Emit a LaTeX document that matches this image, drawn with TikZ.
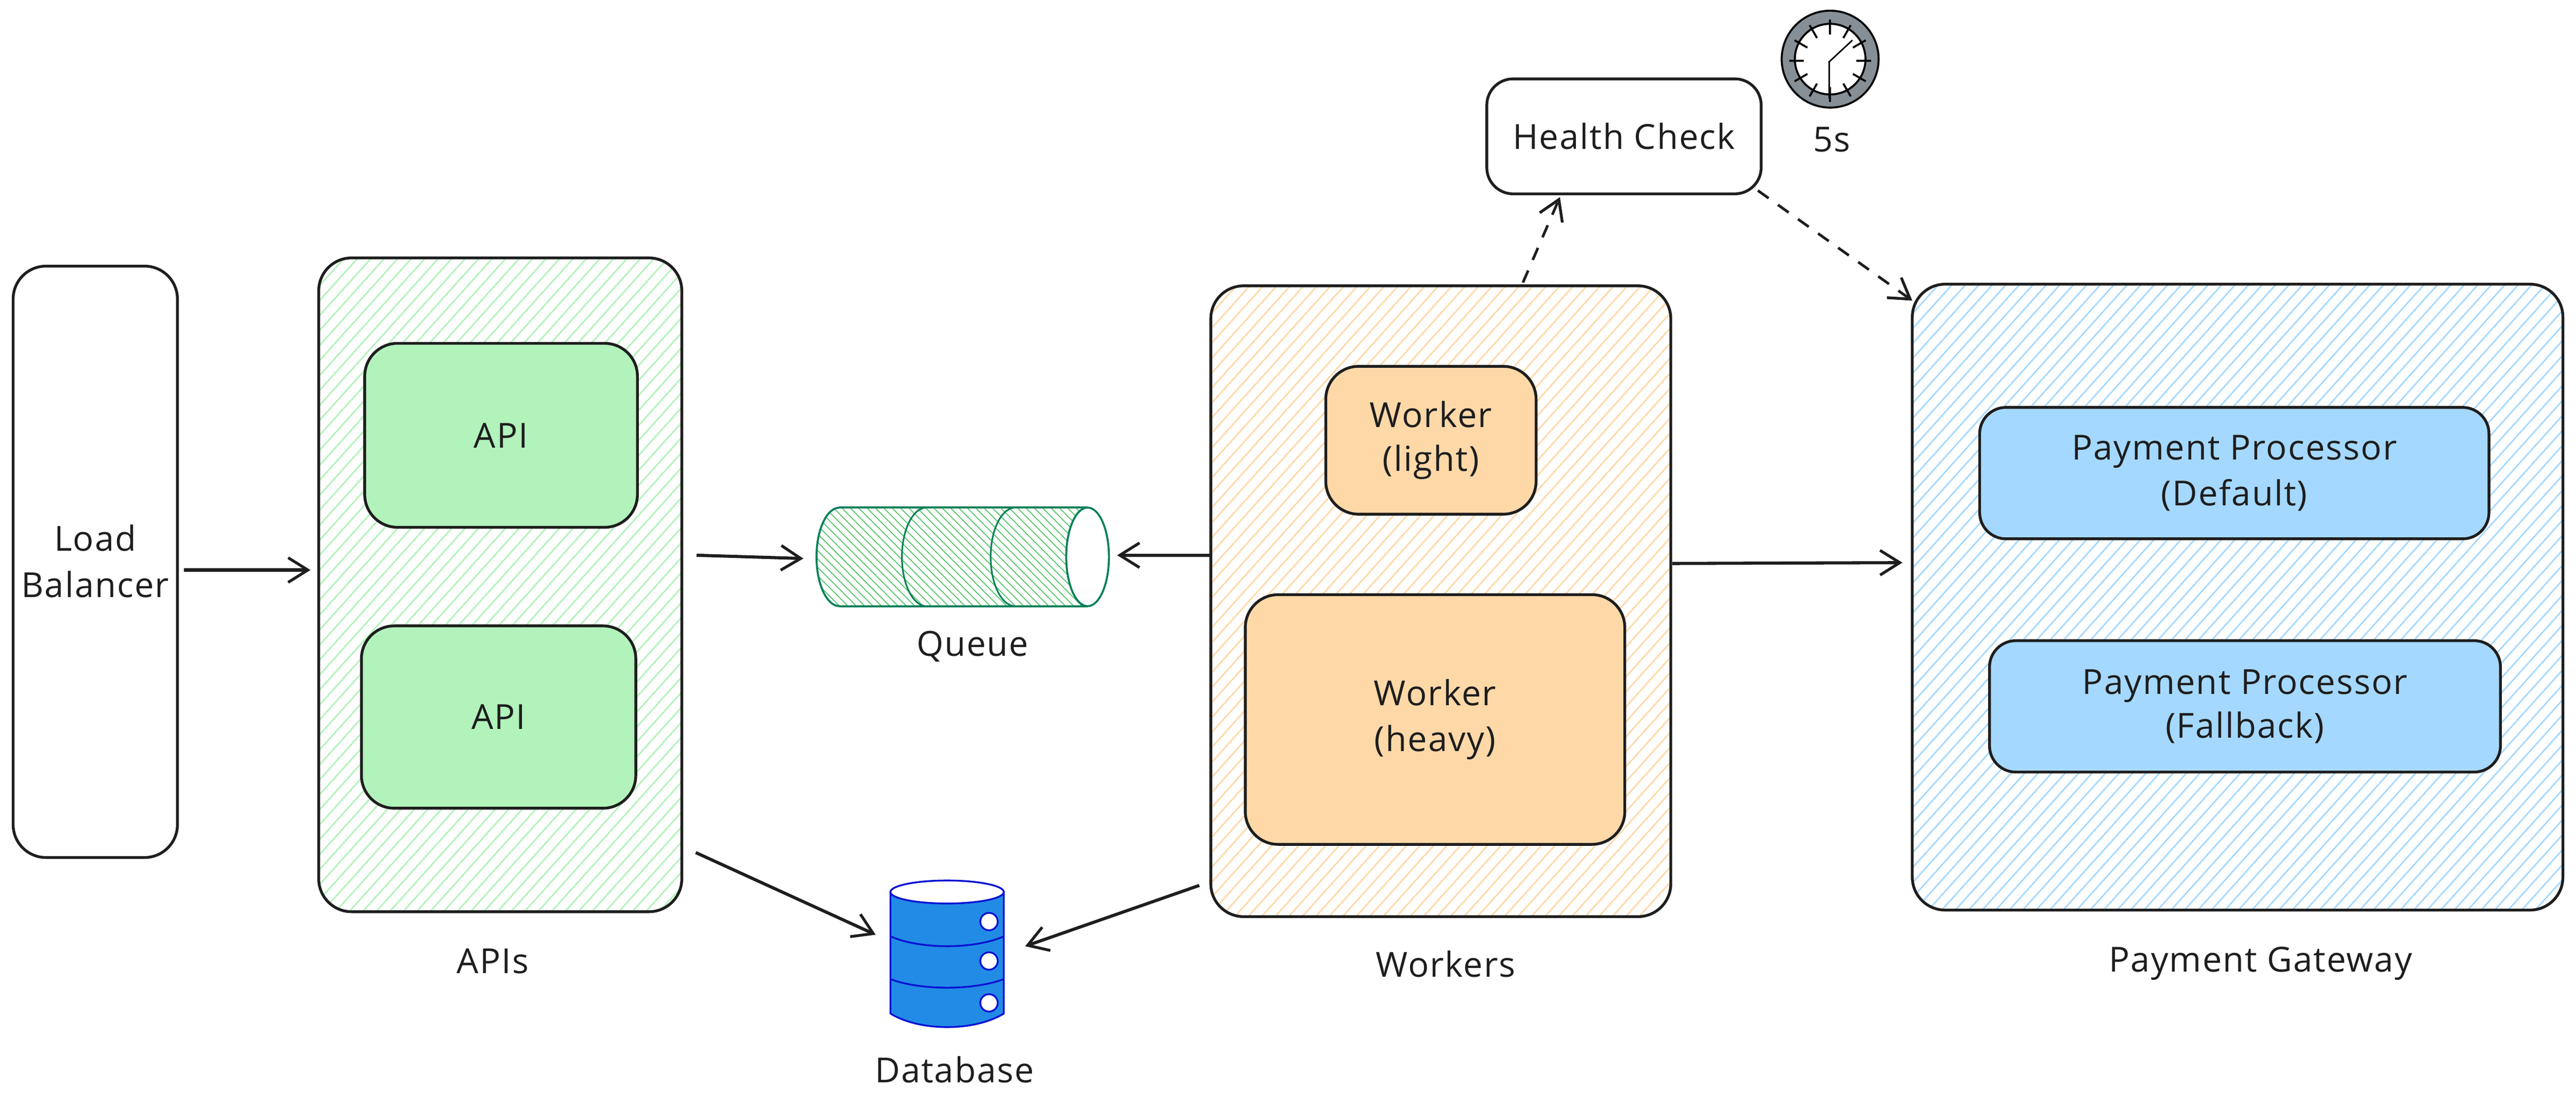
\documentclass[tikz,border=0pt]{standalone}
\usepackage{fontspec}
\setmainfont{Open Sans}[LetterSpace=3]
\usetikzlibrary{arrows.meta,patterns.meta}
\definecolor{inkdark}{HTML}{1E1E1E}
\definecolor{apigreen}{HTML}{B2F2BB}
\definecolor{workerorange}{HTML}{FFD8A8}
\definecolor{payblue}{HTML}{A5D8FF}
\definecolor{queuegreen}{HTML}{40C057}
\definecolor{queueedge}{HTML}{087F5B}
\definecolor{dbblue}{HTML}{228BE6}
\definecolor{dbedge}{HTML}{0A14D2}
\definecolor{clockgray}{HTML}{868E96}
\begin{document}
\begin{tikzpicture}[x=1pt,y=-1pt,
  txt/.style={text=inkdark,align=center,inner sep=0pt,outer sep=0pt,font=\fontsize{21}{28}\selectfont},
  box/.style={txt,draw=inkdark,line width=1.7pt,rounded corners=20pt},
  group/.style={box,pattern={Lines[angle=48,distance=6.1pt,line width=.9pt]},pattern color=#1},
  flow/.style={draw=inkdark,line width=1.9pt,-{Straight Barb[length=12pt,width=15pt,line width=1.7pt]}},
  flowdash/.style={flow,line width=1.6pt,dash pattern=on 8pt off 7pt}]
\useasboundingbox (0,0) rectangle (1568,672.46);

\node[box,minimum width=100pt,minimum height=360pt] (lb) at (58,342) {\raisebox{1pt}{Load}\\\raisebox{1pt}{Balancer}};

\node[group=apigreen,minimum width=221pt,minimum height=398pt] (apis) at (304.5,356) {};
\node[box,fill=apigreen,minimum width=166pt,minimum height=112pt] (api1) at (305,265) {API};
\node[box,fill=apigreen,minimum width=167pt,minimum height=111pt] (api2) at (303.5,436.5) {API};
\node[txt] (apislabel) at (300,585) {APIs};

\node[group=workerorange,minimum width=280pt,minimum height=384pt] (workers) at (877,366) {};
\node[box,fill=workerorange,minimum width=128pt,minimum height=90pt] (light) at (871,268) {\raisebox{-1.5pt}{Worker}\\(light)};
\node[box,fill=workerorange,minimum width=231pt,minimum height=152pt] (heavy) at (873.5,438) {\raisebox{-2pt}{Worker}\\\raisebox{-2pt}{(heavy)}};
\node[txt] (workerslabel) at (880,587) {Workers};

\node[group=payblue,minimum width=396pt,minimum height=381pt] (gateway) at (1362,363.5) {};
\node[box,fill=payblue,minimum width=310pt,minimum height=80pt,rounded corners=16pt] (default) at (1360,288) {Payment Processor\\(Default)};
\node[box,fill=payblue,minimum width=311pt,minimum height=80pt,rounded corners=16pt] (fallback) at (1366.5,430) {\raisebox{-1.5pt}{Payment Processor}\\(Fallback)};
\node[txt] (gatewaylabel) at (1376,586.5) {Payment Gateway};

\node[box,fill=white,minimum width=167pt,minimum height=70pt,rounded corners=16pt] (health) at (988.5,83) {Health Check};

\node[minimum width=178pt,minimum height=60pt,inner sep=0pt,outer sep=0pt] (queue) at (586,339) {};
\path[pattern={Lines[angle=-45,distance=3.6pt,line width=.5pt]},pattern color=queuegreen] (511,309) -- (662,309) -- (662,369) -- (511,369) arc[start angle=90,end angle=270,x radius=14,y radius=30];
\draw[queueedge,line width=1.2pt] (511,309) -- (662,309);
\draw[queueedge,line width=1.2pt] (511,369) -- (662,369);
\draw[queueedge,line width=1.2pt] (511,309) arc[start angle=270,end angle=90,x radius=14,y radius=30];
\draw[queueedge,line width=1pt] (564,309) arc[start angle=270,end angle=90,x radius=15,y radius=30];
\draw[queueedge,line width=1pt] (618,309) arc[start angle=270,end angle=90,x radius=15,y radius=30];
\draw[queueedge,line width=1.2pt,fill=white] (662,339) ellipse [x radius=13,y radius=30];
\node[txt] (queuelabel) at (592,393.5) {Queue};

\node[minimum width=69pt,minimum height=89pt,inner sep=0pt,outer sep=0pt] (db) at (576.5,580.5) {};
\draw[dbedge,line width=1.1pt,fill=dbblue] (542,543) -- (542,617) .. controls (560,628) and (593,628) .. (611,617) -- (611,543) -- cycle;
\draw[dbedge,line width=1.1pt,fill=white] (576.5,543) ellipse [x radius=34.5,y radius=7];
\draw[dbedge,line width=1.1pt] (542,570) .. controls (560,578) and (593,578) .. (611,570);
\draw[dbedge,line width=1.1pt] (542,596) .. controls (560,603) and (593,603) .. (611,596);
\draw[dbedge,line width=1.1pt,fill=white] (602,561) circle (5.3);
\draw[dbedge,line width=1.1pt,fill=white] (602,585) circle (5.3);
\draw[dbedge,line width=1.1pt,fill=white] (602,610.5) circle (5.3);
\node[txt] (dblabel) at (581,651) {Database};

\draw[black,line width=1.2pt,fill=clockgray] (1114,36) circle (29.5);
\draw[black,line width=1.2pt,fill=white] (1114,36) circle (21.5);
\foreach \a in {0,30,...,330} \draw[black,line width=1.2pt] (1114,37) ++(\a:16) -- ++(\a:9);
\draw[black,line width=.9pt] (1113,38) -- (1127.5,24.5);
\draw[black,line width=.9pt] (1113.5,38) -- (1113.5,60);
\node[txt] (clocklabel) at (1115,85) {5s};

\draw[flow] ([shift={(4,5)}]lb.east) -- ([shift={(-5,-9)}]apis.west);
\draw[flow] ([shift={(9,-18)}]apis.east) -- ([shift={(-8,1)}]queue.west);
\draw[flow] ([shift={(0,-28)}]workers.west) -- ([shift={(5,-1)}]queue.east);
\draw[flow] ([shift={(1,-23)}]workers.east) -- ([shift={(-6,-21)}]gateway.west);
\draw[flow] ([shift={(8.5,-36)}]apis.south east) -- ([shift={(-9,-11.5)}]db.west);
\draw[flow] ([shift={(-7,-19)}]workers.south west) -- ([shift={(13,-4.5)}]db.east);
\draw[flowdash] ([shift={(190,-2)}]workers.north west) -- ([shift={(-39,2)}]health.south);
\draw[flowdash] ([shift={(-2,-2)}]health.south east) -- ([shift={(0,10)}]gateway.north west);
\end{tikzpicture}
\end{document}
